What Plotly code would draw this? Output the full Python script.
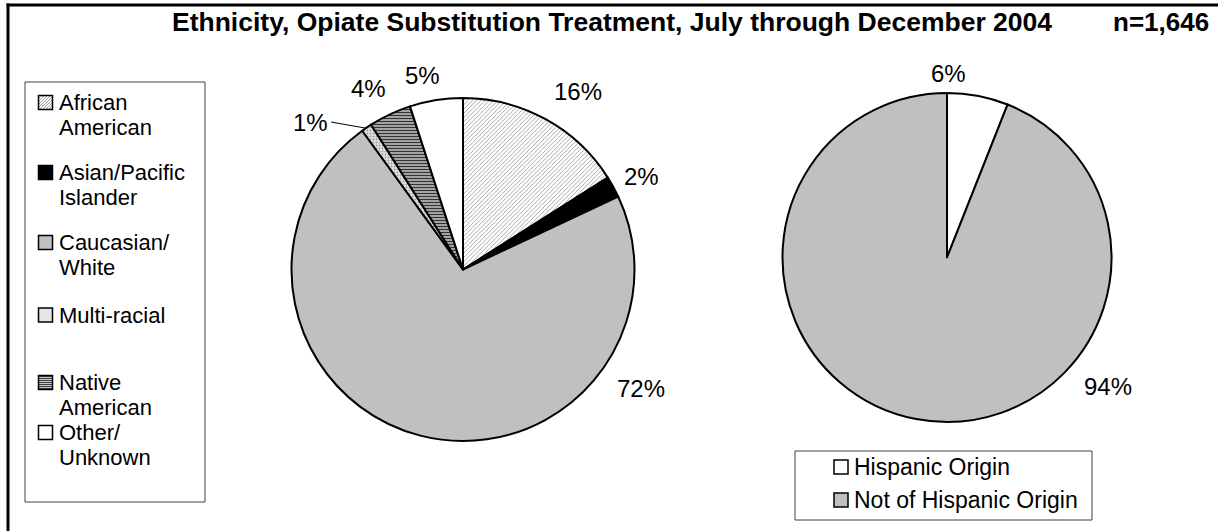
import plotly.graph_objects as go

# Ethnicity breakdown (percent of clients)
eth_labels = ["African American", "Asian/Pacific Islander", "Caucasian/White",
              "Multi-racial", "Native American", "Other/Unknown"]
eth_legend_lines = [["African", "American"], ["Asian/Pacific", "Islander"],
                    ["Caucasian/", "White"], ["Multi-racial"],
                    ["Native", "American"], ["Other/", "Unknown"]]
eth_values = [16, 2, 72, 1, 4, 5]

# Hispanic origin breakdown (percent of clients)
hisp_labels = ["Hispanic Origin", "Not of Hispanic Origin"]
hisp_values = [6, 94]

title_text = "Ethnicity, Opiate Substitution Treatment, July through December 2004"
n_text = "n=1,646"

W, H = 1218, 531
FONT = "Arial, 'Liberation Sans', sans-serif"
TXT = 24
LEG = 22


def px(x):
    return x / W


def py(y):
    return 1 - y / H


eth_colors = ["#FFFFFF", "#000000", "#C0C0C0", "#E6E6E6", "#C8C8C8", "#FFFFFF"]
eth_pattern = dict(
    shape=["/", "", "", ".", "-", ""],
    fgcolor=["#8C8C8C", "#000000", "#C0C0C0", "#9A9A9A", "#333333", "#FFFFFF"],
    bgcolor=eth_colors,
    size=[3, 4, 4, 3, 3, 4],
    solidity=[0.25, 0.3, 0.3, 0.35, 0.5, 0.3],
    fillmode="replace",
)

fig = go.Figure()

# left pie: centre (463, 269.5), radius 171.5
fig.add_trace(go.Pie(
    labels=eth_labels,
    values=eth_values,
    sort=False,
    direction="clockwise",
    rotation=0,
    textinfo="none",
    hoverinfo="label+percent",
    marker=dict(colors=eth_colors, pattern=eth_pattern,
                line=dict(color="#000000", width=2)),
    domain=dict(x=[px(463 - 171.5), px(463 + 171.5)],
                y=[py(269.5 + 171.5), py(269.5 - 171.5)]),
    showlegend=False,
))

# right pie: centre (947, 257.5), radius 164.5
hisp_colors = ["#FFFFFF", "#C0C0C0"]
fig.add_trace(go.Pie(
    labels=hisp_labels,
    values=hisp_values,
    sort=False,
    direction="clockwise",
    rotation=0,
    textinfo="none",
    hoverinfo="label+percent",
    marker=dict(colors=hisp_colors, line=dict(color="#000000", width=2)),
    domain=dict(x=[px(947 - 164.5), px(947 + 164.5)],
                y=[py(257.5 + 164.5), py(257.5 - 164.5)]),
    showlegend=False,
))

annotations = []
shapes = []


def label(x, y, text, size=TXT, anchor="center", bold=False):
    annotations.append(dict(
        x=px(x), y=py(y), xref="paper", yref="paper", xanchor=anchor, yanchor="middle",
        text=f"<b>{text}</b>" if bold else text, showarrow=False,
        font=dict(family=FONT, size=size, color="#000000")))


# percentage labels placed around the pies
eth_label_pos = [(578, 91), (641, 177), (641, 388), (310, 123), (368, 89), (422, 75)]
hisp_label_pos = [(948, 73), (1108, 386)]
for v, (x, y) in zip(eth_values, eth_label_pos):
    label(x, y, f"{v}%")
for v, (x, y) in zip(hisp_values, hisp_label_pos):
    label(x, y, f"{v}%")

# heading
label(1054, 22, title_text, size=26.5, anchor="right", bold=True)
label(1211, 22, n_text, size=26, anchor="right", bold=True)


def rect(x0, y0, x1, y1, fill="rgba(0,0,0,0)", color="#000000", width=1):
    shapes.append(dict(type="rect", xref="paper", yref="paper",
                       x0=px(x0), x1=px(x1), y0=py(y0), y1=py(y1),
                       fillcolor=fill, line=dict(color=color, width=width)))


def path(d, color, width=1):
    shapes.append(dict(type="path", xref="paper", yref="paper", path=d,
                       line=dict(color=color, width=width)))


def seg(x0, y0, x1, y1):
    return f"M{px(x0)},{py(y0)} L{px(x1)},{py(y1)} "


def swatch(cx, cy, idx, colors):
    s = 7
    x0, x1, y0, y1 = cx - s, cx + s, cy - s, cy + s
    rect(x0, y0, x1, y1, fill=colors[idx], color="#000000", width=0)
    if idx == 0 and colors is eth_colors:
        d = ""
        for k in range(-14, 15, 3):
            ax, ay = x0 + k, y1
            bx, by = x0 + k + 14, y0
            # clip diagonal to the square
            if ax < x0:
                ay -= (x0 - ax); ax = x0
            if bx > x1:
                by += (bx - x1); bx = x1
            if ax < bx:
                d += seg(ax, ay, bx, by)
        path(d, "#9A9A9A", 1)
    if idx == 4 and colors is eth_colors:
        d = ""
        for yy in range(int(y0) + 1, int(y1), 2):
            d += seg(x0, yy + 0.5, x1, yy + 0.5)
        path(d, "#404040", 1)
    rect(x0, y0, x1, y1, color="#000000", width=1.5)


# ethnicity legend
rect(25, 82, 205, 502, color="#404040", width=1)
eth_first_line_y = [102.5, 172.5, 242.5, 315, 382.5, 432.5]
for i, (lines, y) in enumerate(zip(eth_legend_lines, eth_first_line_y)):
    swatch(45.5, y, i, eth_colors)
    for j, line in enumerate(lines):
        label(57, y + 25 * j, line, size=LEG, anchor="left")

# hispanic legend
rect(795, 451, 1092, 520, color="#404040", width=1)
hisp_line_y = [467, 500]
for i, (name, y) in enumerate(zip(hisp_labels, hisp_line_y)):
    swatch(841, y, i, hisp_colors)
    label(852, y, name, size=23, anchor="left")

# frame: top and left edges
path(seg(6.5, 5, W, 5), "#000000", 3)
path(seg(8, 3.5, 8, H), "#000000", 3)
# leader line for the 1% label
path(seg(331, 122, 365, 128), "#000000", 1)

fig.update_layout(
    width=W, height=H,
    margin=dict(l=0, r=0, t=0, b=0),
    paper_bgcolor="#FFFFFF",
    plot_bgcolor="#FFFFFF",
    font=dict(family=FONT, size=TXT, color="#000000"),
    showlegend=False,
    annotations=annotations,
    shapes=shapes,
)

fig.write_html("out.html")
